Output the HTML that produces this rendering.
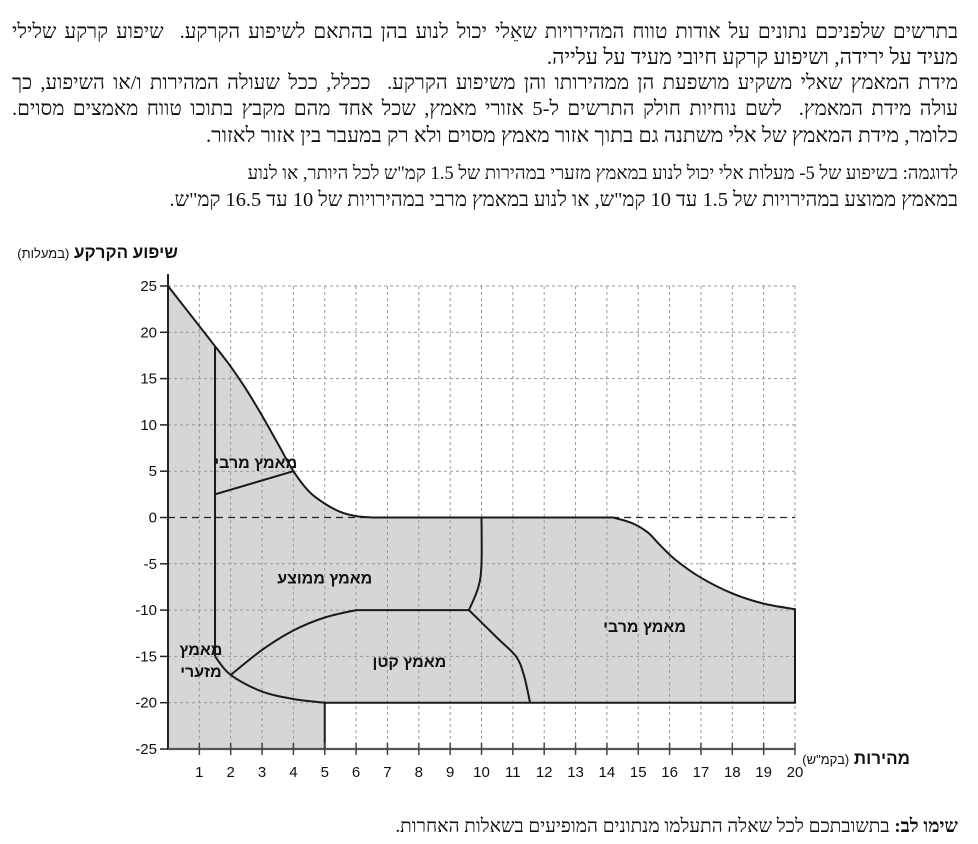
<!DOCTYPE html>
<html><head><meta charset="utf-8">
<style>
body{margin:0;background:#fff;width:978px;height:844px;overflow:hidden;position:relative;font-family:"Liberation Serif","DejaVu Serif",serif;}
.ln{position:absolute;right:20px;width:946px;direction:rtl;font-size:20.5px;color:#111;white-space:nowrap;text-align:right;line-height:24px;}
.j{text-align:justify;text-align-last:justify;white-space:normal;}
svg{position:absolute;left:0;top:0;}
</style></head><body>
<div>
<div class="ln j" style="top:20px">בתרשים שלפניכם נתונים על אודות טווח המהירויות שאֵלי יכול לנוע בהן בהתאם לשיפוע הקרקע.&nbsp; שיפוע קרקע שלילי</div>
<div class="ln" style="top:45px;font-size:21.5px">מעיד על ירידה, ושיפוע קרקע חיובי מעיד על עלייה.</div>
<div class="ln j" style="top:71px">מידת המאמץ שאלי משקיע מושפעת הן ממהירותו והן משיפוע הקרקע.&nbsp; ככלל, ככל שעולה המהירות ו/או השיפוע, כך</div>
<div class="ln j" style="top:97px">עולה מידת המאמץ.&nbsp; לשם נוחיות חולק התרשים ל-5 אזורי מאמץ, שכל אחד מהם מקבץ בתוכו טווח מאמצים מסוים.</div>
<div class="ln" style="top:123px;font-size:21.1px">כלומר, מידת המאמץ של אלי משתנה גם בתוך אזור מאמץ מסוים ולא רק במעבר בין אזור לאזור.</div>
<div class="ln" style="top:162px;font-size:18.6px">לדוגמה: בשיפוע של 5- מעלות אלי יכול לנוע במאמץ מזערי במהירות של 1.5 קמ"ש לכל היותר, או לנוע</div>
<div class="ln" style="top:188px;font-size:20.4px">במאמץ ממוצע במהירויות של 1.5 עד 10 קמ"ש, או לנוע במאמץ מרבי במהירויות של 10 עד 16.5 קמ"ש.</div>
</div>
<div class="ln" style="top:815px;font-size:19px"><b>שימו לב:</b> בתשובתכם לכל שאלה התעלמו מנתונים המופיעים בשאלות האחרות.</div>
<svg id="chart" width="978" height="844"></svg>
<script>
const xTicks=[1,2,3,4,5,6,7,8,9,10,11,12,13,14,15,16,17,18,19,20];
const yTicks=[25,20,15,10,5,0,-5,-10,-15,-20,-25];
const upperX=[0,1.5,2,2.5,3,3.5,4,4.5,5,5.5,6,6.5];
const upperY=[25,18.5,16.3,13.8,11,8,5,2.8,1.5,0.6,0.15,0];
const rightX=[14.2,14.8,15.3,15.7,16.2,17,18,19,20];
const rightY=[0,-0.6,-1.6,-3,-4.6,-6.5,-8.2,-9.3,-9.9];
const minX=[1.5,2,3,4,5];const minY=[-15,-17,-18.8,-19.6,-20];
const smallX=[2,3,4,5,6];const smallY=[-17,-14.3,-12.2,-10.8,-10];
const midX=[9.6,9.9,10,10];const midY=[-10,-7.5,-5,0];
const smRX=[9.6,10.5,11.1,11.35,11.55];const smRY=[-10,-13,-15,-17,-20];
const labels=[["מאמץ מרבי",2.8,6],["מאמץ ממוצע",5,-6.5],["מאמץ קטן",7.7,-15.5],["מאמץ מרבי",15.2,-11.7]];
const X=v=>168+v*31.35, Y=v=>517.5-v*9.26;
const svg=document.getElementById('chart');const NS='http://www.w3.org/2000/svg';
function el(t,a,txt){const e=document.createElementNS(NS,t);for(const k in a)e.setAttribute(k,a[k]);if(txt!==undefined)e.textContent=txt;svg.appendChild(e);return e;}
function smooth(xs,ys,move=true){let p=[];for(let i=0;i<xs.length;i++)p.push([X(xs[i]),Y(ys[i])]);
 let d=move?`M${p[0][0]},${p[0][1]}`:`L${p[0][0]},${p[0][1]}`;
 for(let i=0;i<p.length-1;i++){const p0=p[i-1]||p[i],p1=p[i],p2=p[i+1],p3=p[i+2]||p2;
  d+=` C${p1[0]+(p2[0]-p0[0])/6},${p1[1]+(p2[1]-p0[1])/6} ${p2[0]-(p3[0]-p1[0])/6},${p2[1]-(p3[1]-p1[1])/6} ${p2[0]},${p2[1]}`;}
 return d;}
let d=`M${X(0)},${Y(25)} L${X(1.5)},${Y(18.5)}`+smooth(upperX.slice(1),upperY.slice(1),false)+smooth(rightX,rightY,false)+` L${X(20)},${Y(-20)} L${X(5)},${Y(-20)} L${X(5)},${Y(-25)} L${X(0)},${Y(-25)} Z`;
let f=el('path',{d,fill:'#d6d6d6',stroke:'none'});


xTicks.forEach(v=>{const g=el('line',{x1:X(v),x2:X(v),y1:Y(25),y2:Y(-25),stroke:'#999','stroke-dasharray':'3,3','stroke-width':1});

});
yTicks.forEach(v=>{if(v===0||v===-25)return;const g=el('line',{x1:X(0),x2:X(20),y1:Y(v),y2:Y(v),stroke:'#999','stroke-dasharray':'3,3','stroke-width':1});

});
el('line',{x1:X(0),x2:X(20),y1:Y(0),y2:Y(0),stroke:'#222','stroke-dasharray':'7,5','stroke-width':1.3});
const st={fill:'none',stroke:'#1a1a1a','stroke-width':2};
let b=el('path',Object.assign({d},st));


el('line',Object.assign({x1:X(1.5),y1:Y(18.5),x2:X(1.5),y2:Y(-15)},st));
el('line',Object.assign({x1:X(1.5),y1:Y(2.5),x2:X(4),y2:Y(5)},st));
el('path',Object.assign({d:smooth(minX,minY)},st));
el('path',Object.assign({d:smooth(smallX,smallY)+` L${X(9.6)},${Y(-10)}`},st));
el('path',Object.assign({d:smooth(midX,midY)},st));
el('path',Object.assign({d:smooth(smRX,smRY)},st));
el('line',{x1:X(0),x2:X(0),y1:Y(26.3),y2:Y(-25),stroke:'#222','stroke-width':2});
el('line',{x1:X(0),x2:X(20),y1:Y(-25),y2:Y(-25),stroke:'#555','stroke-width':2.2});
yTicks.forEach(v=>{el('line',{x1:X(0)-8,x2:X(0),y1:Y(v),y2:Y(v),stroke:'#222','stroke-width':1.5});
const t=el('text',{x:X(0)-11,y:Y(v)+5,'text-anchor':'end','font-size':15,'font-family':'Liberation Sans, sans-serif',fill:'#111'},v);

});
xTicks.forEach(v=>{el('line',{x1:X(v),x2:X(v),y1:Y(-25)-6,y2:Y(-25)+6,stroke:'#444','stroke-width':1.5});
const t=el('text',{x:X(v),y:777,'text-anchor':'middle','font-size':15,'font-family':'Liberation Sans, sans-serif',fill:'#111'},v);

});
labels.forEach(l=>{const t=el('text',{x:X(l[1]),y:Y(l[2])+6,'text-anchor':'middle','font-size':16,'font-weight':'bold','font-family':'Liberation Sans Narrow, Liberation Sans, sans-serif',fill:'#111'},l[0]);

});
[["מאמץ",-14.2],["מזערי",-16.6]].forEach(l=>{const t=el('text',{x:X(1.05),y:Y(l[1])+6,'text-anchor':'middle','font-size':16,'font-weight':'bold','font-family':'Liberation Sans Narrow, Liberation Sans, sans-serif',fill:'#111'},l[0]);

});
let yt=el('text',{x:178,y:258,'text-anchor':'start','font-size':17,'font-weight':'bold','font-family':'Liberation Sans Narrow, Liberation Sans, sans-serif',direction:'rtl',fill:'#111'},'');
yt.innerHTML='שיפוע הקרקע <tspan font-weight="normal" font-size="13">(במעלות)</tspan>';


let xt=el('text',{x:910,y:764,'text-anchor':'start','font-size':17,'font-weight':'bold','font-family':'Liberation Sans Narrow, Liberation Sans, sans-serif',direction:'rtl',fill:'#111'},'');
xt.innerHTML='מהירות <tspan font-weight="normal" font-size="13">(בקמ"ש)</tspan>';


</script>
</body></html>
